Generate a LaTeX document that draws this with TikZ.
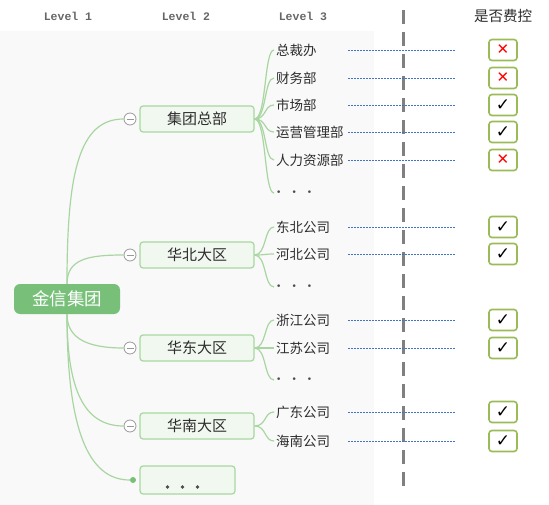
\documentclass[tikz,border=0pt]{standalone}
\usepackage{fontspec}
\setmainfont{Noto Sans CJK SC}
\newfontfamily\monofont{Liberation Mono}
\newfontfamily\symfont{DejaVu Sans}
\usetikzlibrary{positioning,calc}
\definecolor{mapgreen}{RGB}{120,192,122}
\definecolor{mapline}{RGB}{168,214,160}
\definecolor{mapfill}{RGB}{241,248,239}
\definecolor{mapedge}{RGB}{168,216,160}
\definecolor{chkedge}{RGB}{155,187,89}
\definecolor{leadblue}{RGB}{68,114,196}
\definecolor{paneback}{RGB}{249,249,249}
\definecolor{textdark}{RGB}{45,45,45}
\tikzset{
    rootbox/.style={rectangle, rounded corners=6pt, fill=mapgreen, text=white, minimum width=106pt, minimum height=30pt, font=\fontsize{17.5}{17.5}\selectfont},
    dept/.style={rectangle, rounded corners=3pt, draw=mapedge, line width=1.2pt, fill=mapfill, minimum width=114pt, minimum height=26pt, font=\fontsize{15}{15}\selectfont, text=textdark},
    unit/.style={anchor=west, inner sep=2pt, font=\fontsize{13.5}{13.5}\selectfont, text=textdark},
    etc/.style={anchor=west, inner sep=2pt, font=\symfont\fontsize{9}{9}\selectfont, text=gray!60!black},
    fold/.style={circle, draw=gray!80, fill=white, line width=0.8pt, minimum size=12pt, inner sep=0pt},
    branch/.style={mapline, line width=1.2pt},
    lead/.style={leadblue, line width=0.6pt, dash pattern=on 2pt off 1pt},
    chkbox/.style={rectangle, rounded corners=3pt, draw=chkedge, line width=1.6pt, fill=white, minimum width=28pt, minimum height=21pt, inner sep=0pt},
    header/.style={font=\monofont\bfseries\fontsize{11.5}{11.5}\selectfont, text=gray!80!black},
}
\newcommand{\yes}{{\symfont\bfseries\fontsize{17}{17}\selectfont ✓}}
\newcommand{\no}{{\symfont\fontsize{15}{15}\selectfont\color{red} ✕}}
\newcommand{\etcdots}{•\hspace{10pt}•\hspace{10pt}•}

\begin{document}
\begin{tikzpicture}[x=1pt, y=-1pt]
    \useasboundingbox (0,0) rectangle (549,505);
    \fill[paneback] (0,31) rectangle (374,505);

    % Headers
    \node[header] (h1) at (68,16) {Level 1};
    \node[header] (h2) at (186,16) {Level 2};
    \node[header] (h3) at (303,16) {Level 3};
    \node[font=\fontsize{14.5}{14.5}\selectfont, text=textdark] (h4) at (503,16) {是否费控};

    % Divider
    \draw[gray, line width=3pt, dash pattern=on 14pt off 8pt] (403,10) -- (403,490);

    % Root
    \node[rootbox] (root) at (67,299) {金信集团};

    % Level 2
    \foreach \n/\y/\t in {hq/119/集团总部, north/255/华北大区, east/348/华东大区, south/426/华南大区} {
        \node[dept] (\n) at (197,\y) {\t};
        \node[fold] (f\n) at (130,\y) {};
        \draw[gray!80, line width=0.8pt] ($(f\n.center)+(-3.5,0)$) -- ++(7,0);
    }
    \node[dept, minimum width=95pt, minimum height=28pt] (more) at (187.5,480) {};
    \foreach \i in {0,1,2}
        \fill[gray!60!black] ($(more.center)+(-20+\i*15,7)$) circle (1.8pt);
    \node[circle, fill=mapgreen, minimum size=6pt, inner sep=0pt] (fmore) at (133,480) {};

    \draw[branch] (root.north) .. controls +(0,-110) and +(-45,0) .. (fhq.west);
    \draw[branch] (root.north) .. controls +(0,-25) and +(-35,0) .. (fnorth.west);
    \draw[branch] (root.south) .. controls +(0,25) and +(-35,0) .. (feast.west);
    \draw[branch] (root.south) .. controls +(0,75) and +(-40,0) .. (fsouth.west);
    \draw[branch] (root.south) .. controls +(0,115) and +(-45,0) .. (fmore);

    % Level 3
    \foreach \n/\y/\t in {a1/50/总裁办, a2/78/财务部, a3/105/市场部, a4/132/运营管理部, a5/160/人力资源部} {
        \node[unit] (\n) at (274,\y) {\t};
        \draw[branch] (hq.east) .. controls +(12,0) and +(-10,0) .. (\n.west);
    }
    \node[etc] (a6) at (274,193) {\etcdots};
    \draw[branch] (hq.east) .. controls +(12,0) and +(-10,0) .. (a6.west);

    \foreach \n/\y/\t in {b1/227/东北公司, b2/254/河北公司} {
        \node[unit] (\n) at (274,\y) {\t};
        \draw[branch] (north.east) .. controls +(12,0) and +(-10,0) .. (\n.west);
    }
    \node[etc] (b3) at (274,287) {\etcdots};
    \draw[branch] (north.east) .. controls +(12,0) and +(-10,0) .. (b3.west);

    \foreach \n/\y/\t in {c1/320/浙江公司, c2/348/江苏公司} {
        \node[unit] (\n) at (274,\y) {\t};
        \draw[branch] (east.east) .. controls +(12,0) and +(-10,0) .. (\n.west);
    }
    \node[etc] (c3) at (274,380) {\etcdots};
    \draw[branch] (east.east) .. controls +(12,0) and +(-10,0) .. (c3.west);

    \foreach \n/\y/\t in {d1/412/广东公司, d2/441/海南公司} {
        \node[unit] (\n) at (274,\y) {\t};
        \draw[branch] (south.east) .. controls +(12,0) and +(-10,0) .. (\n.west);
    }

    % Cost control marks
    \foreach \n/\m in {a1/\no, a2/\no, a3/\yes, a4/\yes, a5/\no, b1/\yes, b2/\yes, c1/\yes, c2/\yes, d1/\yes, d2/\yes} {
        \node[chkbox] (k\n) at (\n.west -| 503,0) {\m};
        \draw[lead] ($(\n.west)+(74,0)$) -- ($(k\n.west)+(-33,0)$);
    }
\end{tikzpicture}
\end{document}
